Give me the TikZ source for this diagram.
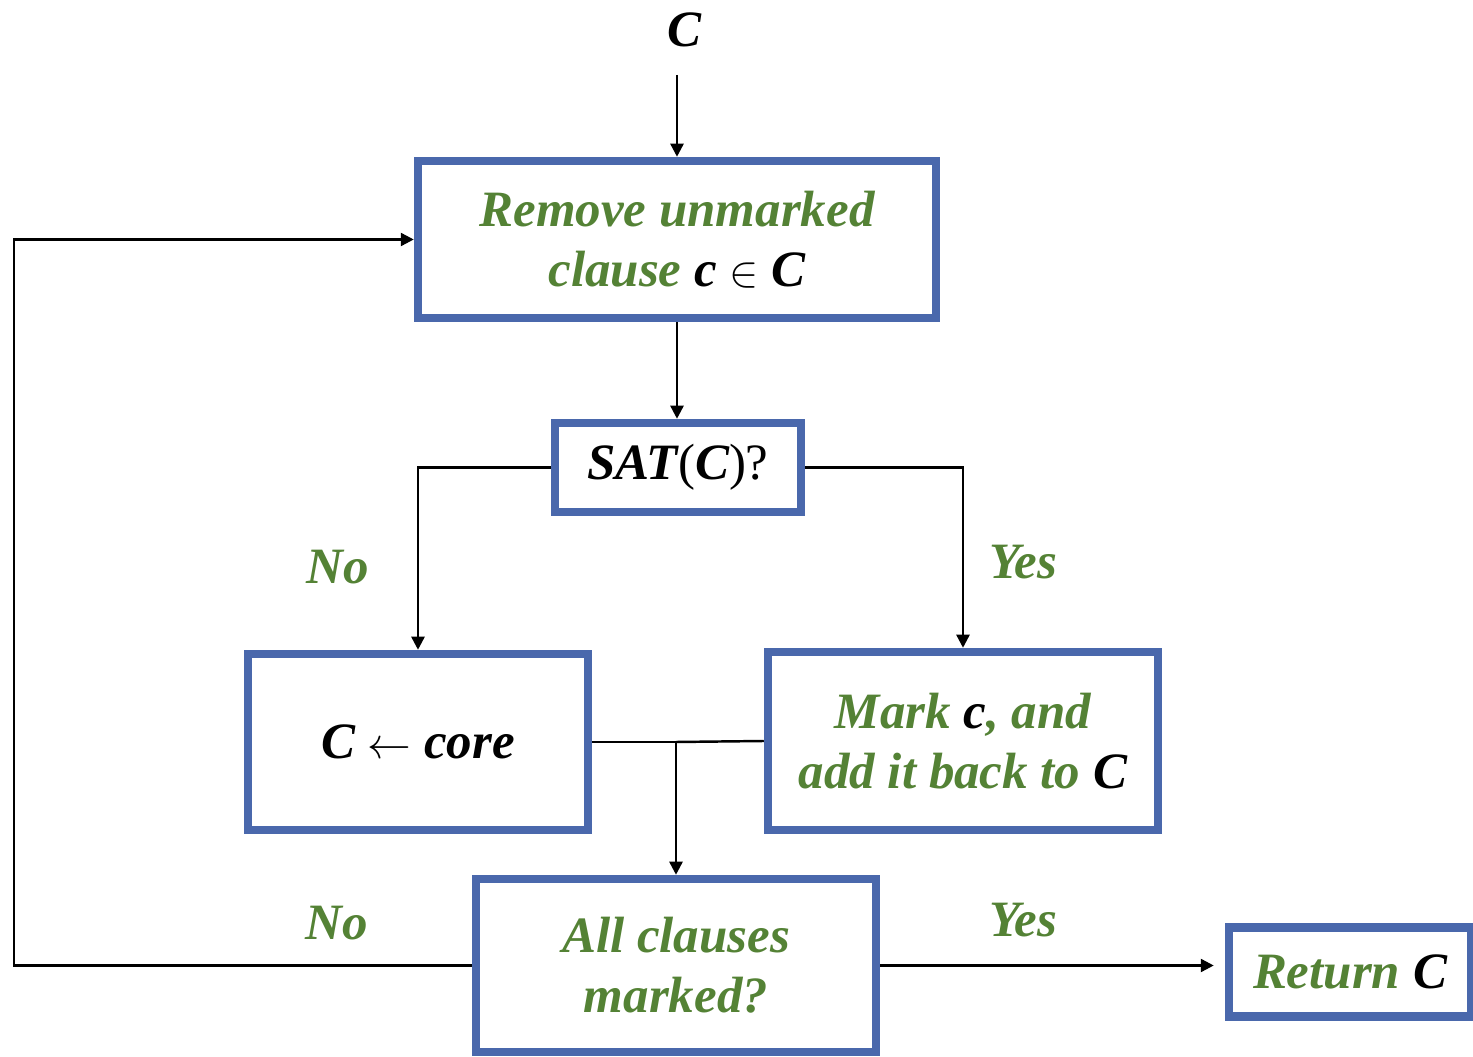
\documentclass[tikz,border=0pt]{standalone}
\usepackage{fontspec}
\setmainfont{Liberation Serif}
\usetikzlibrary{arrows.meta}

\definecolor{boxblue}{RGB}{74,104,172}
\definecolor{txtgreen}{RGB}{84,130,53}

\tikzset{
	stepbox/.style={draw=boxblue, line width=1.7mm, fill=white, align=center, inner sep=2pt,
		font=\fontsize{29}{34}\selectfont\bfseries\itshape, text=txtgreen},
	lbl/.style={font=\fontsize{29}{34}\selectfont\bfseries\itshape, text=txtgreen},
	arr/.style={line width=1.4pt, -{Triangle[length=2.6mm,width=2.6mm]}},
	ln/.style={line width=1.4pt}
}

\newcommand{\bC}{\textcolor{black}{C}}
\newcommand{\bc}{\textcolor{black}{c}}
\newcommand{\up}[1]{{\mdseries\upshape #1}}

\begin{document}
\begin{tikzpicture}
\useasboundingbox (0,0) rectangle (29.46,21.12);

\node[lbl, text=black] (in) at (13.68,20.52) {C};
\coordinate (start) at (13.54,19.62);

% Kasten
\node[stepbox, minimum width=10.36cm, minimum height=3.14cm] (remove) at (13.54,16.33)
	{Remove unmarked\\clause \bc\ \textcolor{black}{\up{$\in$}} \bC};
\node[stepbox, minimum width=4.92cm, minimum height=1.78cm, text=black] (sat) at (13.56,11.77)
	{SAT\up{(}C\up{)?}};
\node[stepbox, minimum width=6.8cm, minimum height=3.52cm, text=black] (core) at (8.36,6.28)
	{C \up{$\leftarrow$} core};
\node[stepbox, minimum width=7.8cm, minimum height=3.56cm] (mark) at (19.26,6.3)
	{Mark \bc, and\\add it back to \bC};
\node[stepbox, minimum width=8.0cm, minimum height=3.46cm] (all) at (13.52,1.81)
	{All clauses\\marked?};
\node[stepbox, minimum width=4.84cm, minimum height=1.78cm] (ret) at (27.0,1.68)
	{Return \bC};

% Beschriftungen
\node[lbl] (no1) at (6.76,9.78) {No};
\node[lbl] (yes1) at (20.46,9.88) {Yes};
\node[lbl] (no2) at (6.74,2.66) {No};
\node[lbl] (yes2) at (20.46,2.72) {Yes};

% Verbindungen
\coordinate (loop) at (0.28,0);
\coordinate (join) at (core.east -| all.north);

\draw[arr] (start) -- (remove.north);
\draw[arr] (remove.south) -- (remove.south |- sat.north);
\draw[arr] (sat.west) -| (core.north);
\draw[arr] (sat.east) -| (mark.north);
\draw[ln] (core.east) -- (join);
\draw[ln] (mark.west) -- (join);
\draw[arr] (join) -- (all.north);
\draw[arr] (all.west) -- (all.west -| loop) |- (remove.west);
\draw[arr, shorten >=2.2mm] (all.east) -- (all.east -| ret.west);

\end{tikzpicture}
\end{document}
